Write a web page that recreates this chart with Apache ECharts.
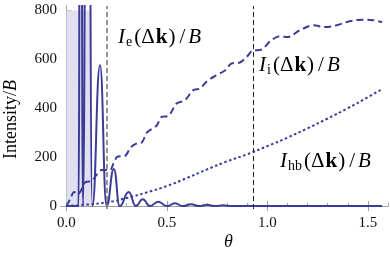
<!DOCTYPE html>
<html><head><meta charset="utf-8">
<script src="https://cdn.jsdelivr.net/npm/echarts@6/dist/echarts.min.js"></script>
<style>html,body{margin:0;padding:0;background:#fff}#c{width:390px;height:260px}</style>
</head><body><div id="c"></div>
<script>
// I_e (solid): zeros and peaks
const ieTheta = [0, 0.060, 0.071, 0.082, 0.105, 0.129, 0.167, 0.200, 0.236, 0.265, 0.310, 0.345, 0.380, 0.415, 0.457, 0.500, 0.540, 0.580, 0.620, 0.660, 0.700, 0.740, 0.780, 0.820, 1.5708];
const ieVal   = [0, 0, 3000, 0, 3000, 0, 576, 0, 152, 0, 57, 0, 28, 0, 18, 0, 11, 0, 7, 0, 5, 0, 3, 0, 0];
// I_i (dashed)
const iiTheta = [0, 0.02, 0.038, 0.055, 0.07, 0.095, 0.125, 0.15, 0.175, 0.215, 0.235, 0.255, 0.29, 0.32, 0.35, 0.375, 0.40, 0.43, 0.45, 0.474, 0.505, 0.548, 0.59, 0.63, 0.664, 0.704, 0.747, 0.79, 0.82, 0.863, 0.896, 0.93, 0.963, 1.02, 1.062, 1.10, 1.16, 1.23, 1.286, 1.344, 1.41, 1.477, 1.526, 1.5708];
const iiVal   = [0, 30, 58, 48, 60, 98, 102, 128, 147, 147, 175, 203, 205, 240, 256, 260, 300, 318, 330, 365, 368, 419, 433, 473, 481, 514, 535, 555, 582, 587, 609, 637, 638, 678, 694, 691, 718, 739, 732, 739, 756, 762, 760, 752];
// I_hb (dotted)
const ihbTheta = [0, 0.1, 0.2, 0.3, 0.4, 0.5, 0.6, 0.7, 0.8, 0.9, 1.0, 1.1, 1.2, 1.3, 1.4, 1.5, 1.5708];
const ihbVal   = [0, 6, 15, 33, 56, 82, 115, 150, 183, 212, 245, 280, 318, 358, 400, 445, 478];
// axes
const xMajor = [0, 0.5, 1.0, 1.5];
const xMinor = [0.1, 0.2, 0.3, 0.4, 0.6, 0.7, 0.8, 0.9, 1.1, 1.2, 1.3, 1.4, 1.6];
const yMajor = [0, 200, 400, 600, 800];
const yMinor = [50, 100, 150, 250, 300, 350, 450, 500, 550, 650, 700, 750];
const vLines = [0.2, 0.93];
const shadeRange = [0, 0.122, 0, 800];

const zip = (a, b) => a.map((v, i) => [v, b[i]]);
const C = '#3c3c98';
const F = 'Liberation Serif';
const XMIN = -0.027, XMAX = 1.6, YMIN = -12, YMAX = 818;
const frame = '#a0a0a0';

const chart = echarts.init(document.getElementById('c'), null, {renderer: 'canvas'});
const xAx = (extra) => Object.assign({type: 'value', min: XMIN, max: XMAX, splitLine: {show: false}, gridIndex: 0}, extra);
const yAx = (extra) => Object.assign({type: 'value', min: YMIN, max: YMAX, splitLine: {show: false}, gridIndex: 0}, extra);
const FS = 21;
const mathRich = {
  i: {fontFamily: F, fontStyle: 'italic', fontSize: FS, color: '#111', padding: [0, 1, 0, 0]},
  s: {fontFamily: F, fontSize: 14, color: '#111', padding: [10, 2, 0, 0]},
  n: {fontFamily: F, fontSize: FS, color: '#111', padding: [0, 1, 0, 0]},
  b: {fontFamily: F, fontWeight: 'bold', fontSize: FS, color: '#111', padding: [0, 1, 0, 0]},
  sl: {fontFamily: F, fontSize: FS, color: '#111', padding: [0, 3, 0, 3]}
};
const label = (x, y, sub) => ({
  type: 'text', left: x, top: y,
  style: {text: '{i|I}{s|' + sub + '}{n|(Δ}{b|k}{n|)}{sl|/}{i|B}', rich: mathRich}
});

chart.setOption({
  animation: false,
  grid: {left: 61, right: 2, top: 6, bottom: 51, containLabel: false, outerBoundsMode: 'none'},
  xAxis: [
    xAx({position: 'bottom', axisLine: {lineStyle: {color: frame, width: 1}},
      axisTick: {inside: true, length: 5, customValues: xMajor, lineStyle: {color: frame}},
      axisLabel: {customValues: xMajor, formatter: v => v.toFixed(1), fontFamily: F, fontSize: 15, color: '#111', margin: 7}}),
    xAx({position: 'bottom', axisLine: {show: false},
      axisTick: {inside: true, length: 3, customValues: xMinor, lineStyle: {color: frame}},
      axisLabel: {show: false}}),
    xAx({position: 'top', axisLine: {lineStyle: {color: frame, width: 1}},
      axisTick: {inside: true, length: 5, customValues: xMajor, lineStyle: {color: frame}},
      axisLabel: {show: false}})
  ],
  yAxis: [
    yAx({position: 'left', axisLine: {show: true, lineStyle: {color: frame, width: 1}},
      axisTick: {show: true, inside: true, length: 5, customValues: yMajor, lineStyle: {color: frame}},
      axisLabel: {customValues: yMajor, fontFamily: F, fontSize: 15, color: '#111', margin: 4}}),
    yAx({position: 'left', axisLine: {show: false},
      axisTick: {show: true, inside: true, length: 3, customValues: yMinor, lineStyle: {color: frame}},
      axisLabel: {show: false}}),
    yAx({position: 'right', axisLine: {show: true, lineStyle: {color: frame, width: 1}},
      axisTick: {show: false}, axisLabel: {show: false}})
  ],
  series: [
    {type: 'line', data: [], xAxisIndex: 0, yAxisIndex: 0, z: 1, silent: true,
      markArea: {silent: true, itemStyle: {color: '#e0e0f0', opacity: 1, borderWidth: 0},
        data: [[{xAxis: shadeRange[0], yAxis: shadeRange[2]}, {xAxis: shadeRange[1], yAxis: shadeRange[3]}]]},
      markLine: {silent: true, symbol: ['none', 'none'], label: {show: false},
        data: [
          {xAxis: vLines[0], lineStyle: {color: '#7a7a7a', width: 1.6, type: [5, 3]}},
          {xAxis: vLines[1], lineStyle: {color: '#222', width: 1, type: [5, 3]}}
        ]}},
    {type: 'line', name: 'Ihb', data: zip(ihbTheta, ihbVal), showSymbol: false, smooth: true, z: 3,
      lineStyle: {color: C, width: 2, type: [2.5, 2.5]}},
    {type: 'line', name: 'Ii', data: zip(iiTheta, iiVal), showSymbol: false, smooth: 0.35, z: 3,
      lineStyle: {color: C, width: 2, type: [7, 4]}},
    {type: 'line', name: 'Ie', data: zip(ieTheta, ieVal), showSymbol: false, smooth: 0.5, smoothMonotone: 'x', z: 4,
      lineStyle: {color: C, width: 2}}
  ],
  graphic: [
    label(118, 27, 'e'),
    label(259, 55, 'i'),
    label(280, 151, 'hb'),
    {type: 'text', left: 2, top: 80, rotation: Math.PI / 2,
      style: {text: '{n|Intensity/}{i|B}', rich: {n: {fontFamily: F, fontSize: 18, color: '#111'}, i: {fontFamily: F, fontSize: 18, fontStyle: 'italic', color: '#111'}}}},
    {type: 'text', left: 224, top: 233, style: {text: 'θ', fontFamily: F, fontStyle: 'italic', fontSize: 18, fill: '#111'}}
  ]
});
</script></body></html>
